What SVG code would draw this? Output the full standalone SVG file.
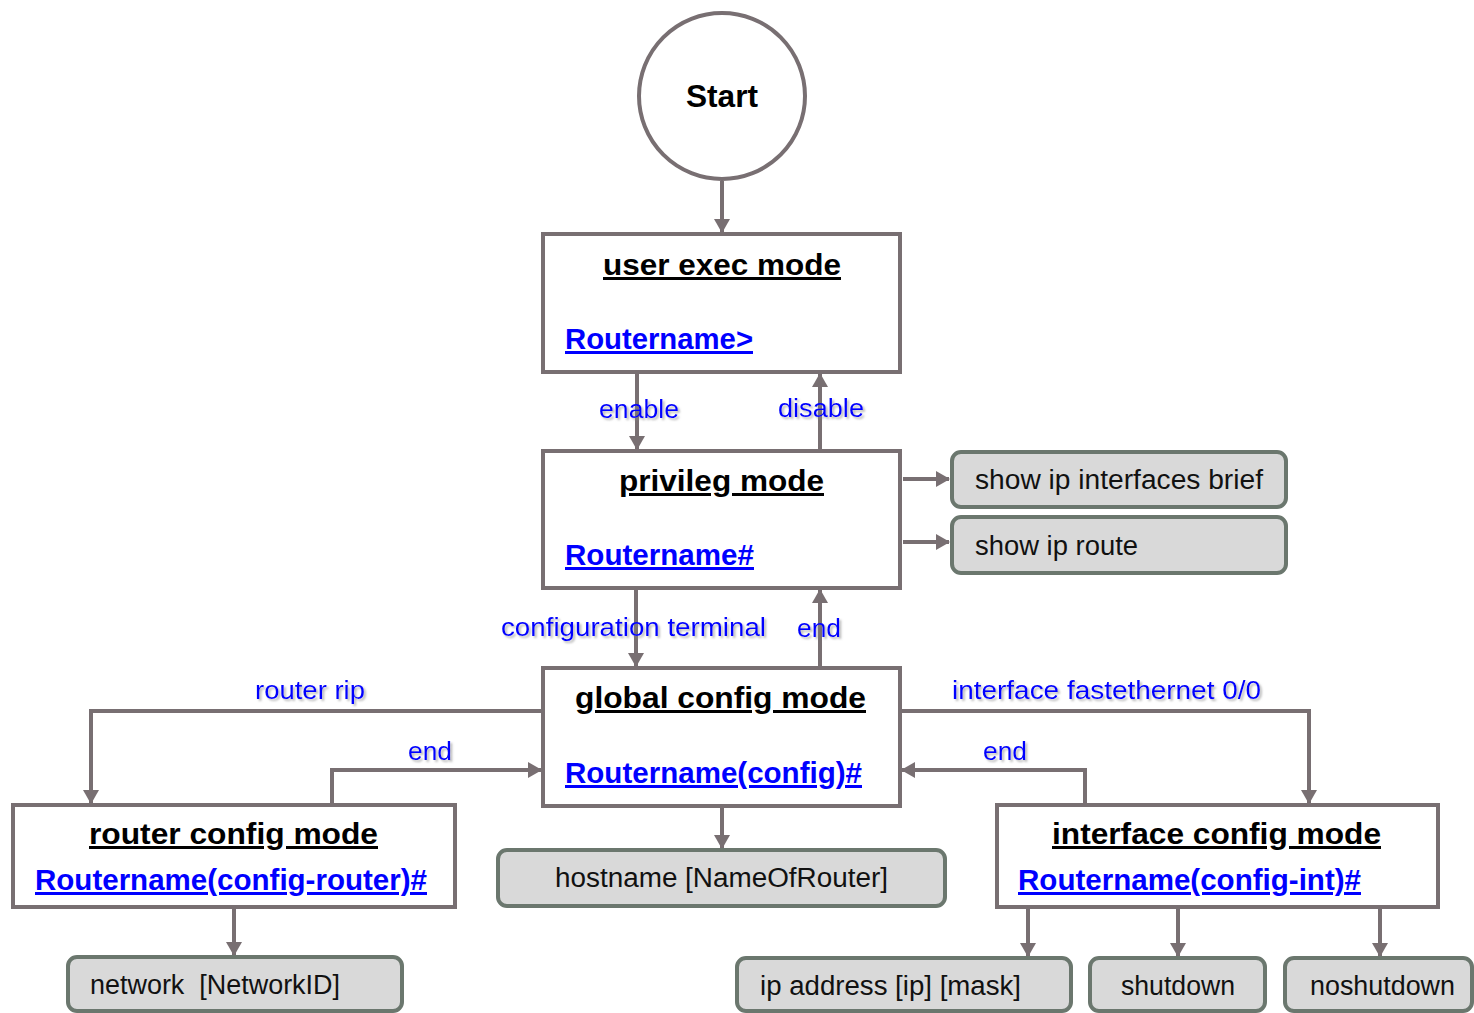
<svg xmlns="http://www.w3.org/2000/svg" width="1474" height="1013" viewBox="0 0 1474 1013">
<style>
.box{fill:#fff;stroke:#786f72;stroke-width:4}
.cmd{fill:#d9d9d9;stroke:#6b776e;stroke-width:4}
.con{fill:none;stroke:#786f72;stroke-width:4}
.title{font-family:"Liberation Sans",Arial,sans-serif;font-weight:bold;font-size:30px;fill:#000;text-decoration:underline}
.prompt{font-family:"Liberation Sans",Arial,sans-serif;font-weight:bold;font-size:30px;fill:#0000ff;text-decoration:underline}
.ctext{font-family:"Liberation Sans",Arial,sans-serif;font-size:27px;fill:#111}
.lbl{font-family:"Liberation Sans",Arial,sans-serif;font-size:26px;fill:#0000ff;filter:url(#sh)}
</style>
<defs>
<marker id="ah" viewBox="0 0 14 16" refX="13" refY="8" markerWidth="14" markerHeight="16" markerUnits="userSpaceOnUse" orient="auto">
<path d="M0,0 L14,8 L0,16 Z" fill="#786f72"/>
</marker>
<filter id="sh" x="-10%" y="-20%" width="130%" height="160%">
<feDropShadow dx="2" dy="2" stdDeviation="1" flood-color="#888" flood-opacity="0.6"/>
</filter>
</defs>
<rect width="1474" height="1013" fill="#fff"/>

<g id="connectors">
<path class="con" d="M722,181 V232" marker-end="url(#ah)"/>
<path class="con" d="M637,372 V449" marker-end="url(#ah)"/>
<path class="con" d="M820,451 V374" marker-end="url(#ah)"/>
<path class="con" d="M903,479 H949" marker-end="url(#ah)"/>
<path class="con" d="M903,542 H949" marker-end="url(#ah)"/>
<path class="con" d="M636,588 V666" marker-end="url(#ah)"/>
<path class="con" d="M820,668 V590" marker-end="url(#ah)"/>
<path class="con" d="M543,711 H91 V803" marker-end="url(#ah)"/>
<path class="con" d="M332,805 V770 H541" marker-end="url(#ah)"/>
<path class="con" d="M900,711 H1309 V803" marker-end="url(#ah)"/>
<path class="con" d="M1085,805 V770 H902" marker-end="url(#ah)"/>
<path class="con" d="M722,806 V848" marker-end="url(#ah)"/>
<path class="con" d="M234,907 V955" marker-end="url(#ah)"/>
<path class="con" d="M1028,907 V956" marker-end="url(#ah)"/>
<path class="con" d="M1178,907 V956" marker-end="url(#ah)"/>
<path class="con" d="M1380,907 V956" marker-end="url(#ah)"/>
<text class="lbl" x="599" y="418" textLength="80" lengthAdjust="spacingAndGlyphs">enable</text>
<text class="lbl" x="778" y="417" textLength="86" lengthAdjust="spacingAndGlyphs">disable</text>
<text class="lbl" x="501" y="636" textLength="265" lengthAdjust="spacingAndGlyphs">configuration terminal</text>
<text class="lbl" x="797" y="637" textLength="44" lengthAdjust="spacingAndGlyphs">end</text>
<text class="lbl" x="255" y="699" textLength="110" lengthAdjust="spacingAndGlyphs">router rip</text>
<text class="lbl" x="408" y="760" textLength="44" lengthAdjust="spacingAndGlyphs">end</text>
<text class="lbl" x="952" y="699" textLength="309" lengthAdjust="spacingAndGlyphs">interface fastethernet 0/0</text>
<text class="lbl" x="983" y="760" textLength="44" lengthAdjust="spacingAndGlyphs">end</text>
</g>

<g id="start">
<circle cx="722" cy="96" r="83" fill="#fff" stroke="#786f72" stroke-width="4"/>
<text x="722" y="107" text-anchor="middle" font-family="Liberation Sans, Arial, sans-serif" font-weight="bold" font-size="31" textLength="72" lengthAdjust="spacingAndGlyphs">Start</text>
</g>

<g id="user-exec">
<rect class="box" x="543" y="234" width="357" height="138"/>
<text class="title" x="603" y="275" textLength="238" lengthAdjust="spacingAndGlyphs">user exec mode</text>
<text class="prompt" x="565" y="349" textLength="188" lengthAdjust="spacingAndGlyphs">Routername&gt;</text>
</g>

<g id="privileg">
<rect class="box" x="543" y="451" width="357" height="137"/>
<text class="title" x="619" y="491" textLength="205" lengthAdjust="spacingAndGlyphs">privileg mode</text>
<text class="prompt" x="565" y="565" textLength="189" lengthAdjust="spacingAndGlyphs">Routername#</text>
</g>

<g id="show-ip-int">
<rect class="cmd" x="952" y="452" width="334" height="55" rx="9"/>
<text class="ctext" x="975" y="489" textLength="288" lengthAdjust="spacingAndGlyphs">show ip interfaces brief</text>
</g>

<g id="show-ip-route">
<rect class="cmd" x="952" y="517" width="334" height="56" rx="9"/>
<text class="ctext" x="975" y="555" textLength="163" lengthAdjust="spacingAndGlyphs">show ip route</text>
</g>

<g id="global-config">
<rect class="box" x="543" y="668" width="357" height="138"/>
<text class="title" x="575" y="708" textLength="291" lengthAdjust="spacingAndGlyphs">global config mode</text>
<text class="prompt" x="565" y="783" textLength="297" lengthAdjust="spacingAndGlyphs">Routername(config)#</text>
</g>

<g id="router-config">
<rect class="box" x="13" y="805" width="442" height="102"/>
<text class="title" x="89" y="844" textLength="289" lengthAdjust="spacingAndGlyphs">router config mode</text>
<text class="prompt" x="35" y="890" textLength="392" lengthAdjust="spacingAndGlyphs">Routername(config-router)#</text>
</g>

<g id="hostname">
<rect class="cmd" x="498" y="850" width="447" height="56" rx="9"/>
<text class="ctext" x="555" y="887" textLength="333" lengthAdjust="spacingAndGlyphs">hostname [NameOfRouter]</text>
</g>

<g id="interface-config">
<rect class="box" x="997" y="805" width="441" height="102"/>
<text class="title" x="1052" y="844" textLength="329" lengthAdjust="spacingAndGlyphs">interface config mode</text>
<text class="prompt" x="1018" y="890" textLength="343" lengthAdjust="spacingAndGlyphs">Routername(config-int)#</text>
</g>

<g id="network">
<rect class="cmd" x="68" y="957" width="334" height="54" rx="9"/>
<text class="ctext" x="90" y="994" textLength="250" lengthAdjust="spacingAndGlyphs" xml:space="preserve">network  [NetworkID]</text>
</g>

<g id="ip-address">
<rect class="cmd" x="737" y="958" width="334" height="53" rx="9"/>
<text class="ctext" x="760" y="995" textLength="261" lengthAdjust="spacingAndGlyphs">ip address [ip] [mask]</text>
</g>

<g id="shutdown">
<rect class="cmd" x="1090" y="958" width="175" height="53" rx="9"/>
<text class="ctext" x="1121" y="995" textLength="114" lengthAdjust="spacingAndGlyphs">shutdown</text>
</g>

<g id="noshutdown">
<rect class="cmd" x="1285" y="958" width="187" height="53" rx="9"/>
<text class="ctext" x="1310" y="995" textLength="145" lengthAdjust="spacingAndGlyphs">noshutdown</text>
</g>
</svg>
